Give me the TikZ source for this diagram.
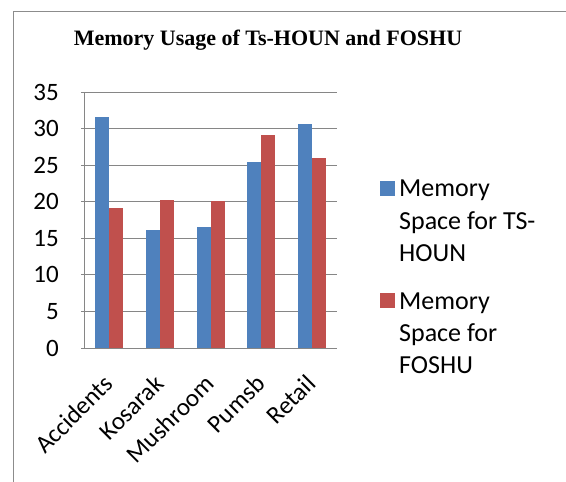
\documentclass[tikz,border=0pt]{standalone}
\usepackage{fontspec}
\setmainfont{Carlito}
\newfontfamily\titlefont{Liberation Serif}
\definecolor{barblue}{HTML}{4F81BD}
\definecolor{barred}{HTML}{C0504D}
\definecolor{gridgray}{HTML}{868686}
\definecolor{framegray}{HTML}{8C8C8C}
\begin{document}
\begin{tikzpicture}[x=1pt,y=-1pt,
  gridline/.style={draw=gridgray,line width=1pt},
  ylab/.style={anchor=east,inner sep=0pt,font=\fontsize{25}{30}\selectfont},
  xlab/.style={anchor=base east,inner sep=0pt,rotate=45,font=\fontsize{25}{30}\selectfont},
  legtext/.style={anchor=base west,inner sep=0pt,font=\fontsize{26}{32}\selectfont},
  titlestyle/.style={anchor=base,inner sep=0pt,font=\titlefont\bfseries\fontsize{22}{26}\selectfont}]
\useasboundingbox (0,0) rectangle (566,482);
\draw[framegray,line width=1pt] (13,482) -- (13,11) -- (566,11);
\node[titlestyle] (title) at (268,45.7) {Memory Usage of Ts-HOUN and FOSHU};
% gridlines and y labels
\foreach \v in {0,5,...,35}{
  \draw[gridline] (81,{348-\v*256/35}) -- (337,{348-\v*256/35});
  \node[ylab] (y\v) at (59,{348-\v*256/35}) {\v};
}
\draw[gridline] (84,92) -- (84,348);
% bars
\foreach \i/\a/\b/\name in {0/31.6/19.1/Accidents,1/16.1/20.2/Kosarak,2/16.5/20.05/Mushroom,3/25.4/29.1/Pumsb,4/30.6/26.0/Retail}{
  \pgfmathsetmacro{\cx}{84+50.6*(\i+0.5)}
  \fill[barblue] ({\cx-14},348) rectangle (\cx,{348-\a*256/35});
  \fill[barred] (\cx,348) rectangle ({\cx+14},{348-\b*256/35});
  \node[xlab] (lab\i) at ({\cx+5.5},385.5) {\name};
}
\draw[gridline] (81,348) -- (337,348);
% legend
\fill[barblue] (380,181) rectangle (395,196);
\node[legtext] (l1a) at (399,196.7) {Memory};
\node[legtext] (l1b) at (399,229) {Space for TS-};
\node[legtext] (l1c) at (399,261.3) {HOUN};
\fill[barred] (380,293.3) rectangle (395,308.3);
\node[legtext] (l2a) at (399,309) {Memory};
\node[legtext] (l2b) at (399,341.3) {Space for};
\node[legtext] (l2c) at (399,373.6) {FOSHU};
\end{tikzpicture}
\end{document}
